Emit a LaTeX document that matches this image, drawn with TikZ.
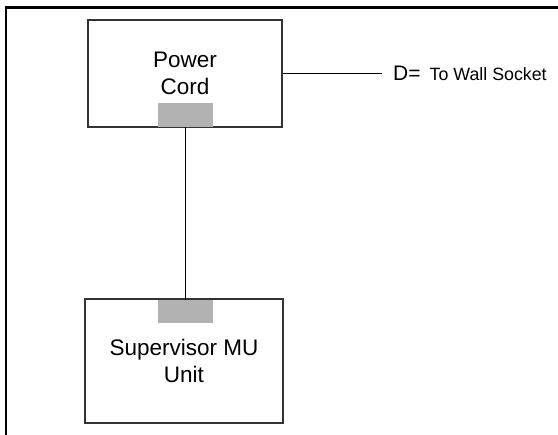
\documentclass[tikz,border=0pt]{standalone}
\usepackage{fontspec}
\setmainfont{Liberation Sans}
\begin{document}
\begin{tikzpicture}[x=1pt,y=-1pt,
  unitbox/.style={draw=black!80,line width=1.2pt,rectangle,inner sep=0pt,align=center,font=\fontsize{22.5}{27}\selectfont},
  tab/.style={fill=black!30,draw=none,rectangle,inner sep=0pt,minimum width=55pt,minimum height=23.5pt},
  wire/.style={draw=black,line width=1pt}]
\useasboundingbox (0,0) rectangle (558,435);
\draw[line width=2.5pt] (6,435) -- (6,7.5) -- (558,7.5);
\node[unitbox,minimum width=194pt,minimum height=107pt] (pc) at (185,73.5) {Power\\Cord};
\node[unitbox,minimum width=198pt,minimum height=124pt] (su) at (184,361) {Supervisor MU\\Unit};
\node[tab,anchor=south] (pct) at (185.5,127) {};
\node[tab,anchor=north] (sut) at (185.5,299.6) {};
\draw[wire] (pct.south) -- (sut.north);
\coordinate (dend) at (382,73.5);
\draw[wire] (pc.east) -- (dend);
\node[anchor=base west,inner sep=0pt] (dlab) at (393,81) {\fontsize{21}{24}\selectfont D=\hspace{9pt}\fontsize{17.8}{20}\selectfont To Wall Socket};
\end{tikzpicture}
\end{document}
